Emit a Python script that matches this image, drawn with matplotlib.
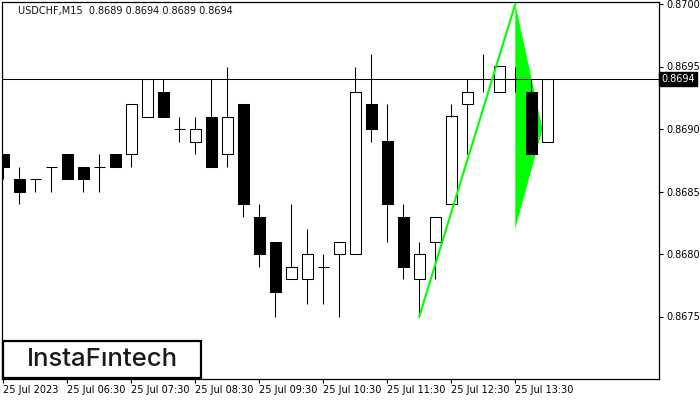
import matplotlib
matplotlib.use("Agg")
import matplotlib.pyplot as plt
from matplotlib.patches import Rectangle, Polygon

# USDCHF M15, 25 Jul 2023, 05:30 .. 14:00
opens  = [0.8688, 0.8686, 0.8686, 0.8687, 0.8688, 0.8687, 0.8687, 0.8688, 0.8688, 0.8691,
          0.8693, 0.8690, 0.8689, 0.8691, 0.8688, 0.8692, 0.8683, 0.8681, 0.8678, 0.8678,
          0.8679, 0.8680, 0.8680, 0.8692, 0.8689, 0.8683, 0.8678, 0.8681, 0.8684, 0.8692,
          0.8694, 0.8693, 0.8694, 0.8693, 0.8689]
highs  = [0.8688, 0.8687, 0.8686, 0.8687, 0.8688, 0.8687, 0.8688, 0.8688, 0.8692, 0.8694,
          0.8694, 0.8691, 0.8691, 0.8694, 0.8695, 0.8692, 0.8684, 0.8681, 0.8684, 0.8682,
          0.8680, 0.8681, 0.8695, 0.8696, 0.8692, 0.8684, 0.8681, 0.8683, 0.8692, 0.8694,
          0.8696, 0.8695, 0.8695, 0.8694, 0.8694]
lows   = [0.8686, 0.8684, 0.8685, 0.8685, 0.8686, 0.8685, 0.8685, 0.8687, 0.8687, 0.8691,
          0.8691, 0.8689, 0.8688, 0.8687, 0.8687, 0.8683, 0.8679, 0.8675, 0.8678, 0.8676,
          0.8676, 0.8675, 0.8680, 0.8689, 0.8681, 0.8678, 0.8675, 0.8678, 0.8684, 0.8688,
          0.8693, 0.8693, 0.8693, 0.8688, 0.8689]
closes = [0.8687, 0.8685, 0.8686, 0.8687, 0.8686, 0.8686, 0.8687, 0.8687, 0.8692, 0.8694,
          0.8691, 0.8690, 0.8690, 0.8687, 0.8691, 0.8684, 0.8680, 0.8677, 0.8679, 0.8680,
          0.8679, 0.8681, 0.8693, 0.8690, 0.8684, 0.8679, 0.8680, 0.8683, 0.8691, 0.8693,
          0.8694, 0.8695, 0.8694, 0.8688, 0.8694]

tick_idx = [0, 4, 8, 12, 16, 20, 24, 28, 32]
tick_lbl = ["25 Jul 2023", "25 Jul 06:30", "25 Jul 07:30", "25 Jul 08:30", "25 Jul 09:30",
            "25 Jul 10:30", "25 Jul 11:30", "25 Jul 12:30", "25 Jul 13:30"]
yticks = [0.8675, 0.8680, 0.8685, 0.8690, 0.8695, 0.8700]

last_price = 0.8694
# pattern: pole from candle 26 low to candle 32 high, then the flag triangle
pole_x, pole_y = [26, 32], [0.8675, 0.8700]
flag_x = [32, 32, 33.7]
flag_y = [0.8700, 0.8682, 0.8690]

W, H = 700, 400
fig = plt.figure(figsize=(7, 4), dpi=100)
ax = fig.add_axes([2 / W, 1 - 379 / H, 657 / W, 377 / H])
ax.set_xlim(-0.08, 40.98)
ax.set_ylim(0.8670, 0.870016)

bw = 0.69
px = 0.75
for i, (o, h, l, c) in enumerate(zip(opens, highs, lows, closes)):
    lo_b, hi_b = min(o, c), max(o, c)
    if h > hi_b:
        ax.vlines(i, hi_b, h, color="black", lw=px, zorder=3)
    if l < lo_b:
        ax.vlines(i, l, lo_b, color="black", lw=px, zorder=3)
    if o == c:
        ax.hlines(o, i - bw / 2, i + bw / 2, color="black", lw=px, zorder=3)
    else:
        fc = "black" if c < o else "none"
        ax.add_patch(Rectangle((i - bw / 2, lo_b), bw, hi_b - lo_b, facecolor=fc,
                               edgecolor="black", lw=px, zorder=3))

ax.add_patch(Polygon(list(zip(flag_x, flag_y)), closed=True, facecolor="#00ff00",
                     edgecolor="none", zorder=2))
ax.plot(pole_x, pole_y, color="#00ff00", lw=1.5, zorder=4)
ax.axhline(last_price, color="black", lw=px, zorder=3.5)

ax.yaxis.tick_right()
ax.set_yticks(yticks)
ax.set_yticklabels([f"{v:.4f}" for v in yticks], fontsize=7)
ax.set_xticks(tick_idx)
ax.set_xticklabels(tick_lbl, fontsize=7, ha="left")
ax.tick_params(axis="both", length=3, width=0.8, pad=2, colors="black")
ax.tick_params(axis="x", pad=1)
for s in ax.spines.values():
    s.set_linewidth(0.9)
    s.set_color("black")

# last price label on the price scale
ax.text(1.003, last_price, f"{last_price:.4f}", transform=ax.get_yaxis_transform(),
        fontsize=7, color="white", va="center", ha="left",
        bbox=dict(boxstyle="square,pad=0.2", facecolor="black", edgecolor="black"))

fig.text(18 / W, 1 - 11 / H, "USDCHF,M15  0.8689 0.8694 0.8689 0.8694", fontsize=7,
         color="#111111", va="center", ha="left")

# logo box
fig.patches.append(Rectangle((3 / W, 1 - 378 / H), 198 / W, 37 / H, transform=fig.transFigure,
                             facecolor="white", edgecolor="black", lw=1.6, zorder=5))
fig.text(102 / W, 1 - 360 / H, "InstaFıntech", fontsize=18.5, family="Inter", weight="medium",
         color="#1a1a1a", ha="center", va="center", zorder=6)

fig.savefig("out.png", dpi=100)
